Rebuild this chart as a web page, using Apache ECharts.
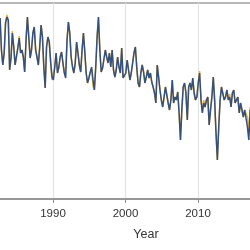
<!DOCTYPE html>
<html>
<head>
<meta charset="utf-8">
<script src="https://cdn.jsdelivr.net/npm/echarts@6/dist/echarts.min.js"></script>
<style>
  html, body { margin: 0; padding: 0; background: #fff; }
  #chart { width: 250px; height: 250px; }
</style>
</head>
<body>
<div id="chart"></div>
<script>
// time axis: first sample and spacing (years)
var startYear = 1982.7
var stepYear = 0.1885

// main series (dark blue)
var blueValues = [
  181,149,134,146,176,182,179,129,141,166,
  152,134,132,151,161,146,149,142,127,159,
  182,162,141,149,166,172,149,142,134,152,
  174,162,132,111,152,162,157,137,122,119,
  132,146,126,132,142,147,136,126,121,159,
  177,166,142,132,126,136,157,146,134,127,
  149,166,147,126,116,121,127,132,119,109,
  132,162,182,149,127,131,132,149,142,136,
  146,132,149,129,122,129,142,132,126,151,
  121,119,126,139,141,119,126,136,146,152,
  132,116,112,126,134,127,116,122,129,121,
  126,117,112,106,96,134,122,109,99,92,
  102,112,104,96,89,99,119,96,102,99,
  107,86,59,89,112,116,106,79,112,116,
  109,121,106,99,102,116,126,99,86,96,
  92,99,102,74,89,102,122,99,66,39,
  72,99,112,114,99,102,109,99,102,92,
  106,109,96,99,102,86,96,89,82,89,
  89,72,59,89
]

// second series (orange), mostly hidden behind the blue one
var orangeValues = [
  181,149,134,146,176,184,179,129,141,168,
  152,134,132,151,163,146,149,142,127,159,
  182,162,141,149,166,172,152,142,134,152,
  174,162,132,111,152,162,157,137,119,117,
  132,146,126,132,142,147,136,126,130,159,
  177,166,142,132,126,136,157,146,134,127,
  149,166,147,126,116,121,127,130,113,109,
  132,162,182,149,127,131,132,149,142,136,
  146,132,149,129,122,129,142,132,126,151,
  121,119,126,139,141,119,126,136,146,152,
  132,116,112,126,134,127,116,122,129,121,
  126,117,112,106,96,134,122,109,99,92,
  102,112,104,96,89,99,119,96,102,99,
  107,86,59,89,112,116,106,79,112,116,
  109,121,106,99,102,116,128,103,86,99,
  92,99,102,74,89,102,122,99,66,39,
  72,99,112,114,99,102,109,99,105,92,
  106,109,96,99,102,86,96,89,82,89,
  89,82,66,92
]

var yearTicks = [1990, 2000, 2010]

function toPairs(vals) {
  return vals.map(function (v, i) {
    return [startYear + i * stepYear, v]
  })
}

var chart = echarts.init(document.getElementById('chart'))
chart.setOption({
  animation: false,
  grid: {
    left: -19.5,
    right: -20.5,
    top: 3,
    bottom: 51,
    outerBoundsMode: 'none',
    containLabel: false,
    show: true,
    borderColor: '#a0a0a0',
    borderWidth: 1.3
  },
  xAxis: {
    type: 'value',
    min: 1980,
    max: 2020,
    interval: 10,
    name: 'Year',
    nameLocation: 'middle',
    nameGap: 29,
    nameTextStyle: {
      color: '#333',
      fontSize: 12.5,
      fontFamily: 'Liberation Sans',
      padding: [0, 0, 0, 41]
    },
    axisLine: { lineStyle: { color: '#8c8c8c', width: 1.5 } },
    axisTick: { show: true, length: 4, lineStyle: { color: '#8c8c8c' } },
    axisLabel: {
      color: '#333',
      fontSize: 11.5,
      fontFamily: 'Liberation Sans',
      margin: 9,
      formatter: function (v) { return yearTicks.indexOf(v) >= 0 ? String(v) : '' }
    },
    splitLine: { show: true, lineStyle: { color: '#e3e3e3', width: 1.2 } }
  },
  yAxis: {
    type: 'value',
    min: 0,
    max: 196,
    show: false,
    splitLine: { show: false }
  },
  series: [
    {
      name: 'orange',
      type: 'line',
      data: toPairs(orangeValues),
      showSymbol: false,
      lineStyle: { color: '#f2b13c', width: 1.5 },
      z: 2
    },
    {
      name: 'blue',
      type: 'line',
      data: toPairs(blueValues),
      showSymbol: false,
      lineStyle: { color: '#34507c', width: 1.5 },
      z: 3
    }
  ]
})
</script>
</body>
</html>
